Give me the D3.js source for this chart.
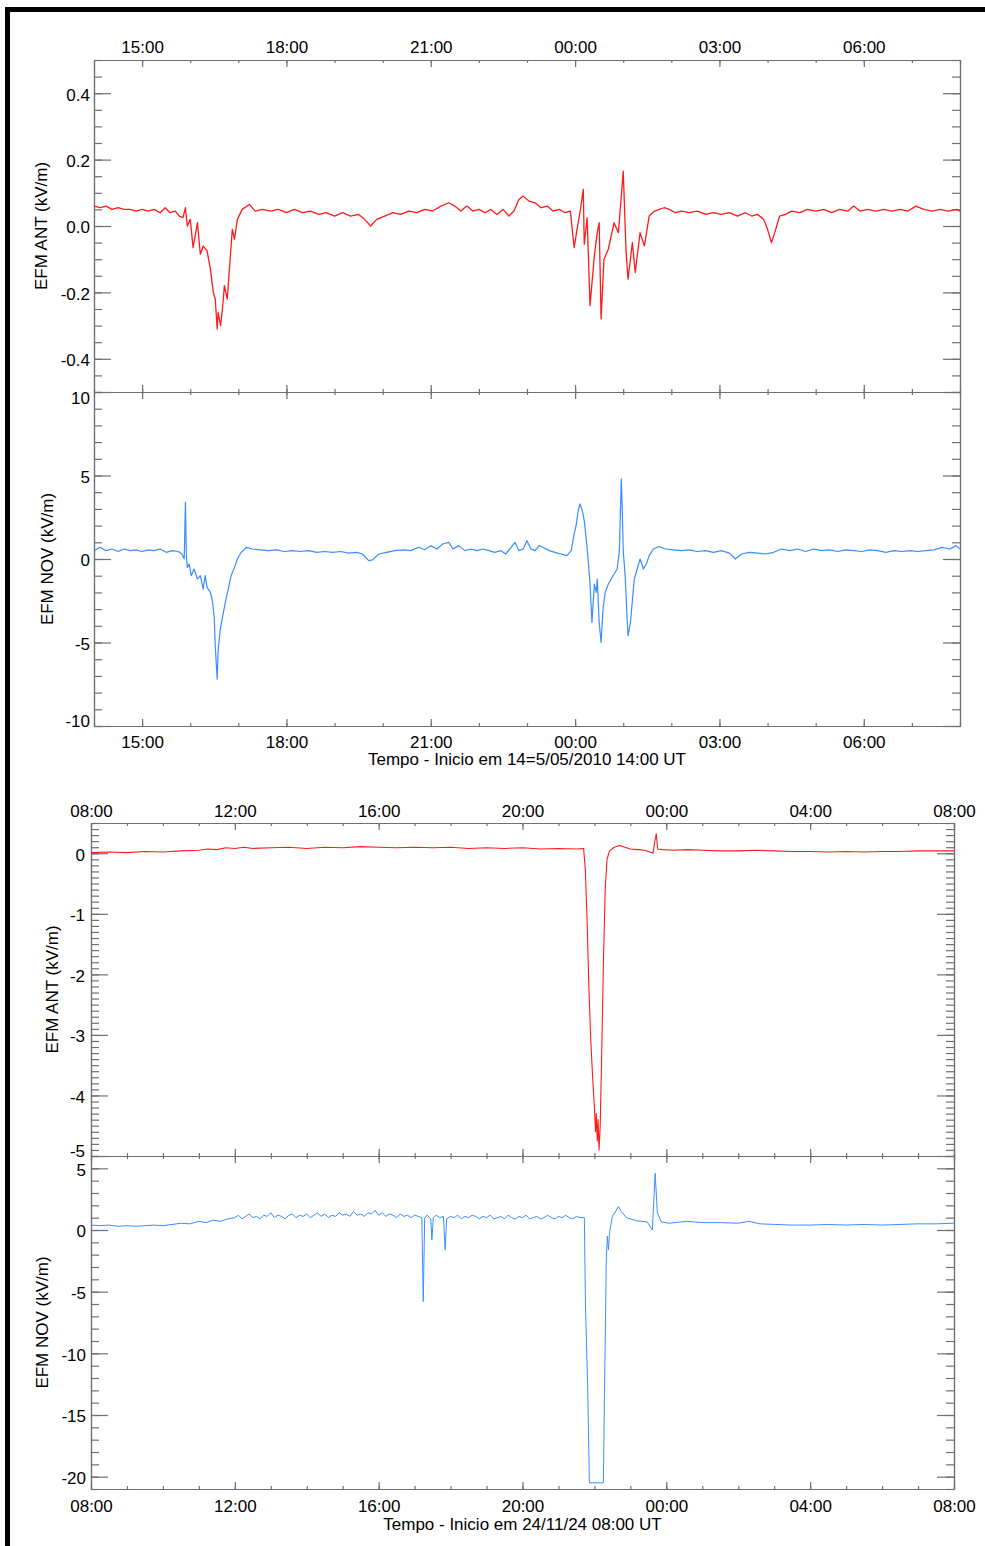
<!DOCTYPE html>
<html>
<head>
<meta charset="utf-8">
<script src="https://cdn.jsdelivr.net/npm/d3@7"></script>
<style>
  body { margin: 0; background: #fff; }
  svg text { font-family: 'Liberation Sans', Arial, sans-serif; font-size: 17px; fill: #000; }
</style>
</head>
<body>
<div id="chart"></div>
<script>
// ---- 2010 event: [hours after 14:00 UT 14/05/2010, value] ----
var antSeries2010 = [
  [0,0.06],[0.125,0.055],[0.25,0.06],[0.375,0.05],[0.5,0.055],[0.625,0.05],[0.75,0.05],[0.875,0.045],
  [1.0,0.05],[1.125,0.045],[1.25,0.05],[1.375,0.04],[1.48,0.055],[1.58,0.04],[1.69,0.045],[1.77,0.03],
  [1.85,0.025],[1.9,0.055],[1.94,0.0],[2.0,0.02],[2.06,-0.065],[2.15,0.01],[2.21,-0.085],[2.27,-0.06],
  [2.35,-0.075],[2.42,-0.13],[2.48,-0.2],[2.52,-0.22],[2.56,-0.31],[2.58,-0.26],[2.63,-0.3],[2.67,-0.25],
  [2.71,-0.18],[2.77,-0.22],[2.83,-0.1],[2.875,-0.01],[2.92,-0.04],[2.98,0.02],[3.08,0.05],[3.23,0.065],
  [3.35,0.045],[3.5,0.05],[3.67,0.045],[3.83,0.05],[4.0,0.04],[4.17,0.05],[4.33,0.04],[4.5,0.045],
  [4.67,0.035],[4.83,0.04],[5.0,0.03],[5.17,0.04],[5.33,0.03],[5.5,0.035],[5.625,0.02],[5.75,0.0],
  [5.875,0.02],[6.04,0.03],[6.21,0.04],[6.375,0.035],[6.54,0.045],[6.71,0.04],[6.875,0.05],[7.04,0.045],
  [7.21,0.06],[7.375,0.07],[7.5,0.06],[7.625,0.045],[7.75,0.06],[7.875,0.045],[8.0,0.05],[8.125,0.04],
  [8.25,0.05],[8.375,0.035],[8.5,0.05],[8.625,0.03],[8.73,0.045],[8.83,0.08],[8.92,0.09],[9.04,0.075],
  [9.17,0.07],[9.29,0.055],[9.42,0.06],[9.54,0.045],[9.67,0.05],[9.79,0.04],[9.9,0.045],[9.98,-0.065],
  [10.04,-0.01],[10.1,0.04],[10.17,0.11],[10.19,-0.055],[10.25,0.025],[10.31,-0.24],[10.4,-0.09],[10.46,-0.02],
  [10.5,0.01],[10.54,-0.28],[10.6,-0.1],[10.69,-0.07],[10.75,-0.03],[10.81,0.01],[10.9,-0.02],[11.0,0.165],
  [11.06,-0.08],[11.1,-0.16],[11.19,-0.05],[11.25,-0.14],[11.35,-0.02],[11.44,-0.06],[11.54,0.03],[11.65,0.045],
  [11.75,0.05],[11.85,0.055],[11.96,0.05],[12.08,0.04],[12.21,0.045],[12.375,0.04],[12.54,0.045],[12.71,0.035],
  [12.875,0.04],[13.04,0.035],[13.21,0.04],[13.375,0.03],[13.54,0.04],[13.67,0.03],[13.79,0.035],[13.92,0.02],
  [14.0,-0.01],[14.08,-0.05],[14.15,-0.02],[14.25,0.03],[14.375,0.035],[14.5,0.045],[14.67,0.04],[14.83,0.05],
  [15.0,0.045],[15.17,0.05],[15.33,0.04],[15.5,0.05],[15.67,0.045],[15.79,0.06],[15.92,0.045],[16.08,0.05],
  [16.25,0.045],[16.42,0.05],[16.58,0.045],[16.75,0.05],[16.92,0.045],[17.08,0.06],[17.25,0.05],[17.42,0.045],
  [17.58,0.05],[17.75,0.045],[17.92,0.05],[18.0,0.045]
];
var novSeries2010 = [
  [0,0.5],[0.125,0.7],[0.25,0.5],[0.375,0.6],[0.5,0.45],[0.625,0.6],[0.75,0.5],[0.875,0.55],
  [1.0,0.45],[1.125,0.55],[1.25,0.5],[1.375,0.6],[1.5,0.4],[1.625,0.5],[1.75,0.45],[1.83,0.3],
  [1.875,0.0],[1.9,3.4],[1.92,0.2],[1.94,-0.5],[1.98,-0.3],[2.02,-1.0],[2.08,-0.6],[2.15,-1.2],
  [2.21,-1.0],[2.27,-1.8],[2.31,-1.0],[2.35,-1.7],[2.42,-2.0],[2.46,-2.5],[2.5,-3.5],[2.52,-5.2],
  [2.56,-7.2],[2.58,-5.5],[2.625,-4.2],[2.67,-3.5],[2.73,-2.6],[2.79,-1.8],[2.85,-1.0],[2.92,-0.5],
  [2.98,0.0],[3.06,0.4],[3.17,0.7],[3.29,0.6],[3.46,0.55],[3.625,0.5],[3.79,0.55],[3.96,0.45],
  [4.125,0.5],[4.29,0.45],[4.46,0.5],[4.625,0.4],[4.79,0.45],[4.96,0.4],[5.125,0.45],[5.29,0.35],
  [5.46,0.4],[5.58,0.3],[5.71,-0.1],[5.79,-0.05],[5.92,0.3],[6.08,0.4],[6.25,0.5],[6.42,0.55],
  [6.58,0.5],[6.75,0.7],[6.875,0.55],[7.0,0.8],[7.125,0.6],[7.25,0.9],[7.375,1.0],[7.46,0.6],
  [7.58,0.8],[7.71,0.5],[7.83,0.6],[7.96,0.5],[8.08,0.6],[8.21,0.5],[8.33,0.4],[8.46,0.5],
  [8.56,0.3],[8.67,0.7],[8.75,1.0],[8.83,0.5],[8.92,0.6],[9.0,1.1],[9.08,0.6],[9.17,0.5],
  [9.25,0.8],[9.33,0.7],[9.46,0.5],[9.58,0.4],[9.71,0.3],[9.83,0.2],[9.92,0.5],[9.98,1.5],
  [10.02,2.0],[10.06,2.8],[10.1,3.3],[10.15,2.9],[10.19,2.3],[10.23,1.2],[10.27,0.0],[10.31,-1.5],
  [10.35,-3.8],[10.4,-1.5],[10.44,-2.0],[10.46,-1.2],[10.5,-3.8],[10.54,-5.0],[10.58,-3.0],[10.625,-2.0],
  [10.69,-1.5],[10.75,-1.2],[10.81,-0.9],[10.875,-0.6],[10.92,0.5],[10.96,4.8],[10.98,3.0],[11.0,0.5],
  [11.04,-1.0],[11.08,-3.5],[11.1,-4.6],[11.15,-3.8],[11.19,-2.5],[11.23,-1.2],[11.29,-0.6],[11.35,0.0],
  [11.42,-0.6],[11.48,-0.3],[11.54,0.2],[11.625,0.6],[11.75,0.75],[11.875,0.6],[12.04,0.55],[12.21,0.5],
  [12.375,0.55],[12.54,0.45],[12.71,0.5],[12.875,0.4],[13.04,0.5],[13.21,0.35],[13.33,0.0],[13.46,0.3],
  [13.625,0.4],[13.79,0.35],[13.96,0.3],[14.125,0.4],[14.29,0.6],[14.46,0.5],[14.625,0.6],[14.79,0.45],
  [14.96,0.6],[15.125,0.5],[15.29,0.55],[15.46,0.45],[15.625,0.55],[15.79,0.5],[15.96,0.45],[16.125,0.55],
  [16.29,0.5],[16.46,0.4],[16.625,0.5],[16.79,0.45],[16.96,0.5],[17.125,0.45],[17.29,0.5],[17.46,0.55],
  [17.625,0.7],[17.79,0.6],[17.92,0.8],[18.0,0.6]
];

// ---- 2024 event: [hours after 08:00 UT 24/11/2024, value] ----
var antSeries2024 = [
  [0,0.01],[0.5,0.02],[1,0.01],[1.5,0.03],[2,0.02],[2.5,0.04],[3,0.05],[3.25,0.07],[3.5,0.06],[3.75,0.09],
  [4,0.08],[4.25,0.1],[4.5,0.08],[5,0.09],[5.5,0.1],[6,0.08],[6.5,0.1],[7,0.09],[7.5,0.11],[8,0.1],
  [8.5,0.09],[9,0.1],[9.5,0.09],[10,0.1],[10.5,0.08],[11,0.09],[11.5,0.08],[12,0.09],[12.5,0.07],[13,0.08],
  [13.5,0.07],[13.7,0.08],[13.75,-0.3],[13.8,-1.2],[13.85,-2.3],[13.9,-3.1],[13.95,-3.7],[14.0,-4.2],
  [14.03,-4.6],[14.05,-4.3],[14.08,-4.75],[14.1,-4.4],[14.13,-4.9],[14.16,-4.5],[14.2,-3.4],[14.25,-1.8],
  [14.3,-0.6],[14.35,-0.1],[14.42,0.04],[14.55,0.1],[14.7,0.13],[14.85,0.1],[15.0,0.07],[15.2,0.06],
  [15.4,0.05],[15.55,0.02],[15.63,0.0],[15.68,0.2],[15.72,0.32],[15.76,0.07],[15.9,0.06],[16.2,0.05],
  [16.6,0.06],[17,0.05],[17.5,0.04],[18,0.04],[18.5,0.05],[19,0.04],[19.5,0.03],[20,0.03],[20.5,0.02],
  [21,0.03],[21.5,0.02],[22,0.03],[22.5,0.03],[23,0.04],[23.5,0.04],[24,0.04]
];
var novSeries2024 = [
  [0,0.4],[0.25,0.35],[0.5,0.4],[0.75,0.3],[1.0,0.35],[1.25,0.3],[1.5,0.35],[1.75,0.4],[2.0,0.35],[2.25,0.45],
  [2.5,0.55],[2.75,0.5],[3.0,0.7],[3.2,0.6],[3.4,0.8],[3.6,0.7],[3.8,0.9],
  [4.0,1.0],[4.1,1.2],[4.2,0.9],[4.3,1.1],[4.4,1.3],[4.5,1.0],[4.6,1.1],[4.7,0.9],[4.8,1.2],[4.9,1.1],
  [5.0,1.4],[5.1,1.0],[5.2,1.2],[5.3,1.1],[5.4,0.9],[5.5,1.2],[5.6,1.3],[5.7,1.0],[5.8,1.2],[5.9,1.1],
  [6.0,1.3],[6.1,1.0],[6.2,1.2],[6.3,1.4],[6.4,1.1],[6.5,1.3],[6.6,1.0],[6.7,1.2],[6.8,1.1],[6.9,1.4],
  [7.0,1.2],[7.1,1.3],[7.2,1.1],[7.3,1.5],[7.4,1.2],[7.5,1.3],[7.6,1.1],[7.7,1.4],[7.8,1.3],[7.9,1.6],
  [8.0,1.2],[8.1,1.4],[8.2,1.1],[8.3,1.3],[8.4,1.2],[8.5,1.0],[8.6,1.3],[8.7,1.1],[8.8,1.2],[8.9,1.0],
  [9.0,1.2],[9.1,1.1],[9.2,1.0],
  [9.24,-5.8],[9.28,1.0],[9.35,1.2],[9.45,0.9],[9.48,-0.8],[9.52,1.0],[9.6,1.2],[9.7,1.0],[9.8,1.1],[9.85,-1.6],
  [9.89,0.9],[10.0,1.1],[10.1,1.0],[10.2,1.2],[10.3,0.9],[10.4,1.1],[10.5,1.0],[10.6,1.2],[10.7,1.1],[10.8,0.9],
  [10.9,1.1],[11.0,1.0],[11.1,1.2],[11.2,0.9],[11.3,1.0],[11.4,1.1],[11.5,0.9],[11.6,1.2],[11.7,1.0],[11.8,0.9],
  [11.9,1.1],[12.0,1.0],[12.1,1.2],[12.2,0.9],[12.3,1.0],[12.4,1.1],[12.5,0.9],[12.6,1.0],[12.7,1.2],[12.8,1.0],
  [12.9,0.9],[13.0,1.1],[13.1,1.0],[13.2,1.2],[13.3,1.0],[13.4,0.9],[13.5,1.1],[13.6,1.0],[13.72,1.0],
  [13.75,-5.9],[13.81,-12.4],[13.86,-20.5],[14.25,-20.5],[14.28,-13.2],[14.33,-2.4],[14.36,-0.5],[14.39,-1.6],
  [14.42,-0.2],[14.5,1.1],[14.67,1.9],[14.75,1.5],[14.89,1.0],[15.17,0.75],[15.47,0.65],[15.61,0.0],
  [15.69,4.6],[15.75,1.4],[15.86,0.65],[16.08,0.55],[16.56,0.7],[17.0,0.6],[17.5,0.6],[18.0,0.55],
  [18.3,0.7],[18.6,0.5],[19.0,0.45],[19.5,0.4],[20.0,0.4],[20.5,0.45],[21.0,0.4],[21.5,0.45],[22.0,0.4],
  [22.5,0.45],[23.0,0.5],[23.5,0.5],[24.0,0.55]
];

// ---- tick values / labels ----
var antTicks2010 = [0.4, 0.2, 0.0, -0.2, -0.4];
var antLabels2010 = ["0.4", "0.2", "0.0", "-0.2", "-0.4"];
var novTicks2010 = [10, 5, 0, -5, -10];
var novLabels2010 = ["10", "5", "0", "-5", "-10"];
var antTicks2024 = [0, -1, -2, -3, -4, -5];
var antLabels2024 = ["0", "-1", "-2", "-3", "-4", "-5"];
var novTicks2024 = [5, 0, -5, -10, -15, -20];
var novLabels2024 = ["5", "0", "-5", "-10", "-15", "-20"];

var start2010 = Date.UTC(2010, 4, 14, 14);
var start2024 = Date.UTC(2024, 10, 24, 8);

var svg = d3.select("#chart").append("svg").attr("width", 985).attr("height", 1546);
svg.append("rect").attr("width", 985).attr("height", 1546).attr("fill", "#fff");
// black frame, top and left
svg.append("path").attr("d", "M7.5,1546V9.5H985")
  .attr("fill", "none").attr("stroke", "#000").attr("stroke-width", 5);

var axisColor = "#707070";
var fmt = d3.utcFormat("%H:%M");
var clipId = 0;

function minorValues(lo, hi, step) {
  return d3.range(Math.round(lo / step), Math.round(hi / step) + 1).map(function (k) { return +(k * step).toFixed(4); });
}

function styleAxis(sel) {
  sel.selectAll("path,line").attr("stroke", axisColor).attr("stroke-width", 1.2);
  sel.selectAll("text").attr("font-size", null).attr("font-family", null);
}

function drawPanel(p) {
  var x = d3.scaleUtc().domain([new Date(p.start), new Date(p.start + p.hours * 3600e3)]).range([p.left, p.right]);
  var y = d3.scaleLinear().domain(p.yDomain).range([p.bottom, p.top]);
  var g = svg.append("g");

  var minorX = x.ticks(d3.utcHour.every(1));
  var majorX = x.ticks(d3.utcHour.every(p.majorHours));

  // top edge
  g.append("g").attr("transform", "translate(0," + p.top + ")")
    .call(d3.axisTop(x).tickValues(minorX).tickSizeInner(-3).tickSizeOuter(0).tickFormat(""))
    .call(styleAxis);
  g.append("g").attr("transform", "translate(0," + p.top + ")")
    .call(d3.axisTop(x).tickValues(majorX).tickSizeInner(-7).tickSizeOuter(0)
      .tickPadding(p.topPad || 0).tickFormat(p.topLabels ? fmt : ""))
    .call(styleAxis);
  // bottom edge
  g.append("g").attr("transform", "translate(0," + p.bottom + ")")
    .call(d3.axisBottom(x).tickValues(minorX).tickSizeInner(-3).tickSizeOuter(0).tickFormat(""))
    .call(styleAxis);
  g.append("g").attr("transform", "translate(0," + p.bottom + ")")
    .call(d3.axisBottom(x).tickValues(majorX).tickSizeInner(-7).tickSizeOuter(0)
      .tickPadding(p.bottomPad || 0).tickFormat(p.bottomLabels ? fmt : ""))
    .call(styleAxis);

  // y axes
  var minorY = minorValues(p.yDomain[0], p.yDomain[1], p.minorStep);
  g.append("g").attr("transform", "translate(" + p.left + ",0)")
    .call(d3.axisLeft(y).tickValues(minorY).tickSizeInner(-8).tickSizeOuter(0).tickFormat(""))
    .call(styleAxis);
  var ly = g.append("g").attr("transform", "translate(" + p.left + ",0)")
    .call(d3.axisLeft(y).tickValues(p.yTicks).tickSizeInner(-17).tickSizeOuter(0)
      .tickPadding(p.yPad).tickFormat(function (d, i) { return p.yLabels[i]; }))
    .call(styleAxis);
  ly.selectAll(".tick text").attr("dy", function (d) {
    if (d === p.yDomain[1]) return "0.65em";
    if (d === p.yDomain[0]) return "0em";
    return "0.41em";
  });
  g.append("g").attr("transform", "translate(" + p.right + ",0)")
    .call(d3.axisRight(y).tickValues(minorY).tickSizeInner(-8).tickSizeOuter(0).tickFormat(""))
    .call(styleAxis);
  g.append("g").attr("transform", "translate(" + p.right + ",0)")
    .call(d3.axisRight(y).tickValues(p.yTicks).tickSizeInner(-17).tickSizeOuter(0).tickFormat(""))
    .call(styleAxis);

  // data line
  var id = "clip" + (clipId++);
  svg.append("clipPath").attr("id", id).append("rect")
    .attr("x", p.left).attr("y", p.top).attr("width", p.right - p.left).attr("height", p.bottom - p.top);
  var line = d3.line()
    .x(function (d) { return x(new Date(p.start + d[0] * 3600e3)); })
    .y(function (d) { return y(d[1]); });
  g.append("path").datum(p.data)
    .attr("clip-path", "url(#" + id + ")")
    .attr("fill", "none").attr("stroke", p.color).attr("stroke-width", p.width)
    .attr("stroke-linejoin", "round")
    .attr("d", line);

  // y title
  g.append("text")
    .attr("transform", "translate(" + p.titleX + "," + ((p.top + p.bottom) / 2) + ") rotate(-90)")
    .attr("text-anchor", "middle")
    .text(p.title);
}

var red = "#ff1a1a", blue = "#3a8dff";

drawPanel({ start: start2010, hours: 18, majorHours: 3, left: 94, right: 960, top: 60, bottom: 392,
  yDomain: [-0.5, 0.5], yTicks: antTicks2010, yLabels: antLabels2010, minorStep: 0.05, yPad: 4,
  topLabels: true, topPad: 7, bottomLabels: false, data: antSeries2010, color: red, width: 1.3,
  title: "EFM ANT (kV/m)", titleX: 47 });
drawPanel({ start: start2010, hours: 18, majorHours: 3, left: 94, right: 960, top: 392, bottom: 726,
  yDomain: [-10, 10], yTicks: novTicks2010, yLabels: novLabels2010, minorStep: 1, yPad: 4,
  topLabels: false, bottomLabels: true, bottomPad: 10, data: novSeries2010, color: blue, width: 1.2,
  title: "EFM NOV (kV/m)", titleX: 53 });
drawPanel({ start: start2024, hours: 24, majorHours: 4, left: 91, right: 954, top: 823, bottom: 1156,
  yDomain: [-5, 0.5], yTicks: antTicks2024, yLabels: antLabels2024, minorStep: 0.1, yPad: 6,
  topLabels: true, topPad: 6, bottomLabels: false, data: antSeries2024, color: red, width: 1.1,
  title: "EFM ANT (kV/m)", titleX: 58 });
drawPanel({ start: start2024, hours: 24, majorHours: 4, left: 91, right: 954, top: 1156, bottom: 1489,
  yDomain: [-21, 6], yTicks: novTicks2024, yLabels: novLabels2024, minorStep: 1, yPad: 5,
  topLabels: false, bottomLabels: true, bottomPad: 11, data: novSeries2024, color: blue, width: 1.0,
  title: "EFM NOV (kV/m)", titleX: 48 });

svg.append("text").attr("x", 527).attr("y", 765).attr("text-anchor", "middle")
  .text("Tempo - Inicio em 14=5/05/2010 14:00 UT");
svg.append("text").attr("x", 522.5).attr("y", 1530).attr("text-anchor", "middle")
  .text("Tempo - Inicio em 24/11/24 08:00 UT");
</script>
</body>
</html>
